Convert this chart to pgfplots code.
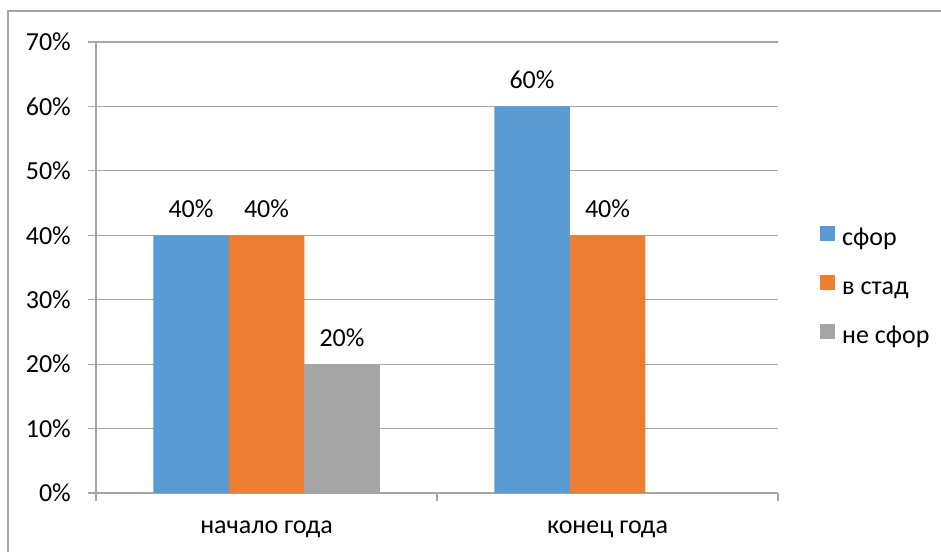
\documentclass[border=0pt]{standalone}
\usepackage{fontspec}
\setmainfont{Carlito}
\usepackage{pgfplots}
\pgfplotsset{compat=1.18}
\definecolor{cblue}{HTML}{5B9BD5}
\definecolor{corange}{HTML}{ED7D31}
\definecolor{cgray}{HTML}{A5A5A5}
\definecolor{gridc}{HTML}{A6A6A6}
\newcommand\cf{\fontsize{26}{31}\selectfont}
\begin{document}
\begin{tikzpicture}
\path[use as bounding box] (-96pt,-59pt) rectangle (845pt,493pt);
\draw[color=gridc, line width=1.5pt] (-88pt,-59pt) -- (-88pt,482pt) -- (845pt,482pt);
\begin{axis}[
 at={(0pt,0pt)}, anchor=south west, scale only axis,
 width=682pt, height=451pt,
 xmin=0, xmax=2, ymin=0, ymax=70,
 ybar=0pt, bar width=75.5pt,
 axis x line=bottom, axis y line=left,
 axis line style={-, draw=gridc, line width=1.2pt},
 tick align=outside, major tick length=8pt,
 tick style={draw=gridc, line width=1.2pt},
 xtick={0,1,2}, xticklabels={,,},
 extra x ticks={0.5,1.5}, extra x tick labels={начало года, конец года},
 extra x tick style={major tick length=0pt},
 ytick={0,10,...,70},
 yticklabel={\pgfmathprintnumber{\tick}\%},
 /pgf/number format/assume math mode=true,
 ymajorgrids, grid style={draw=gridc, line width=1.2pt},
 xticklabel style={font=\cf, text=black, anchor=base, yshift=-40pt},
 yticklabel style={font=\cf, text=black, anchor=east, inner sep=0pt},
 yticklabel shift=17pt,
 nodes near coords={\pgfmathprintnumber{\pgfplotspointmeta}\%},
 every node near coord/.append style={font=\cf, text=black, anchor=base, yshift=18pt},
 legend style={draw=none, fill=none, at={(1.0616,0.592)}, anchor=north west,
   font=\cf, inner sep=0pt, row sep=23.5pt, column sep=7pt,
   nodes={inner sep=0pt, anchor=west, text height=18pt, text depth=6pt}},
 legend cell align=left,
 legend image code/.code={\fill[#1] (0pt,-1.5pt) rectangle (15pt,13.5pt);},
]
\addplot[fill=cblue, draw=none] coordinates {(0.5,40) (1.5,60)};
\addplot[fill=corange, draw=none] coordinates {(0.5,40) (1.5,40)};
\addplot[fill=cgray, draw=none] coordinates {(0.5,20)};
\legend{сфор, в стад, не сфор}
\end{axis}
\end{tikzpicture}
\end{document}
